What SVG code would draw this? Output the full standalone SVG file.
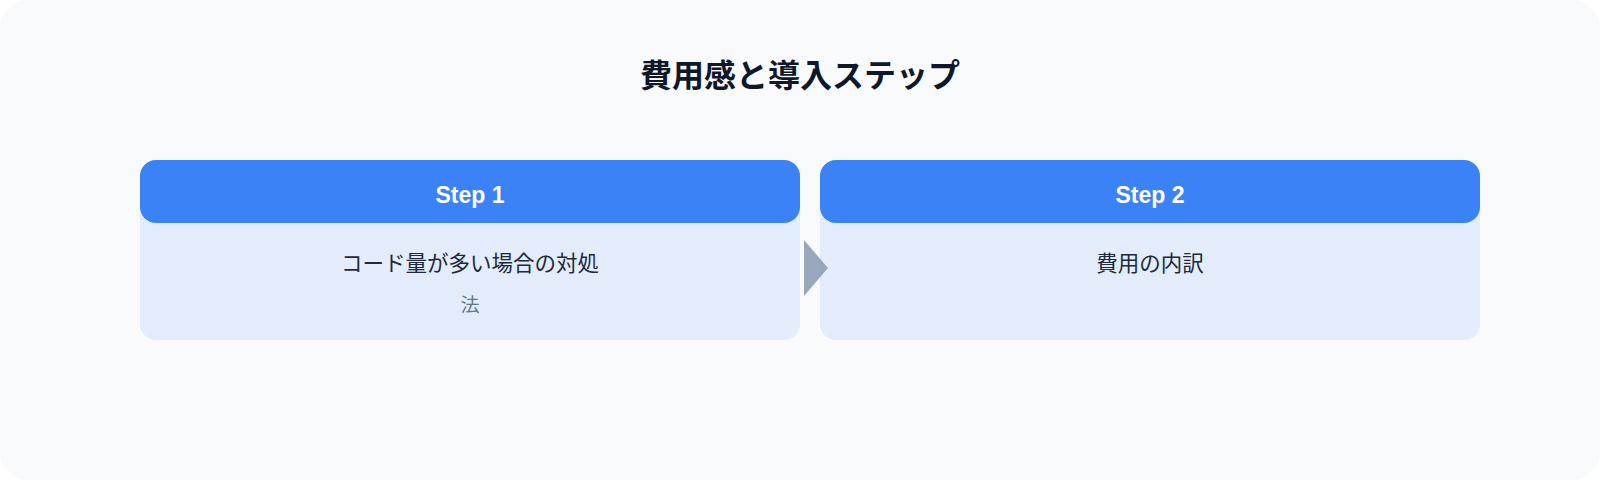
<svg xmlns="http://www.w3.org/2000/svg" width="1600" height="480" viewBox="0 0 1600 480">
<style>
.bg{fill:#f8fafc}
.body{fill:#e2ecfa}
.head{fill:#3b82f6}
.title{font-family:"Noto Sans CJK JP","Noto Sans",sans-serif;font-weight:bold;font-size:32px;fill:#0f172a;text-anchor:middle}
.step{font-family:"Liberation Sans",Arial,sans-serif;font-weight:bold;font-size:23px;fill:#ffffff;text-anchor:middle}
.txt{font-family:"Noto Sans CJK JP","Noto Sans",sans-serif;font-size:21.5px;fill:#1e293b;text-anchor:middle}
.sub{font-family:"Noto Sans CJK JP","Noto Sans",sans-serif;font-size:19px;fill:#64748b;text-anchor:middle}
.arrow{fill:#94a3b8;opacity:0.95}
</style>
<rect width="1600" height="480" fill="#ffffff"/>
<rect class="bg" x="0" y="0" width="1600" height="480" rx="28"/>
<text class="title" x="800" y="87">費用感と導入ステップ</text>
<g id="step1">
<rect class="body" x="140" y="160" width="660" height="180" rx="16"/>
<rect class="head" x="140" y="160" width="660" height="63" rx="16"/>
<text class="step" x="470" y="203">Step 1</text>
<text class="txt" x="470" y="271">コード量が多い場合の対処</text>
<text class="sub" x="470" y="312">法</text>
</g>
<g id="step2">
<rect class="body" x="820" y="160" width="660" height="180" rx="16"/>
<rect class="head" x="820" y="160" width="660" height="63" rx="16"/>
<text class="step" x="1150" y="203">Step 2</text>
<text class="txt" x="1150" y="271">費用の内訳</text>
</g>
<g id="connectors">
<polygon class="arrow" points="804,240 828,268 804,296"/>
</g>
</svg>
